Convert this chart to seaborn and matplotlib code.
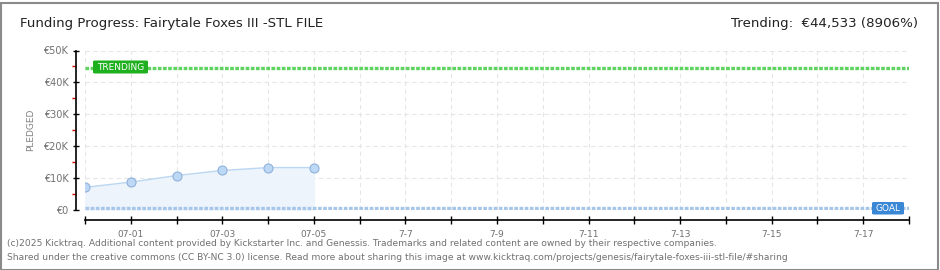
import matplotlib
matplotlib.use("Agg")
import matplotlib.pyplot as plt
import matplotlib.dates as mdates
from matplotlib.patches import FancyBboxPatch, Rectangle
import seaborn as sns
import pandas as pd
import numpy as np

# ---- data ----
dates = ["2025-06-30", "2025-07-01", "2025-07-02", "2025-07-03", "2025-07-04", "2025-07-05"]
pledged = [7100, 8750, 10800, 12400, 13300, 13300]
goal = 500
trending = 44533
title = "Funding Progress: Fairytale Foxes III -STL FILE"
trend_text = "Trending:  €44,533 (8906%)"
xtick_dates = ["2025-07-01", "2025-07-03", "2025-07-05", "2025-07-07", "2025-07-09",
               "2025-07-11", "2025-07-13", "2025-07-15", "2025-07-17"]
xtick_labels = ["07-01", "07-03", "07-05", "7-7", "7-9", "7-11", "7-13", "7-15", "7-17"]
ytick_values = [0, 10000, 20000, 30000, 40000, 50000]
ytick_labels = ["€0", "€10K", "€20K", "€30K", "€40K", "€50K"]
footer1 = ("(c)2025 Kicktraq. Additional content provided by Kickstarter Inc. and Genessis. "
           "Trademarks and related content are owned by their respective companies.")
footer2 = ("Shared under the creative commons (CC BY-NC 3.0) license. Read more about sharing this "
           "image at www.kicktraq.com/projects/genesis/fairytale-foxes-iii-stl-file/#sharing")

sns.set_style("white")
plt.rcParams['font.family'] = ['DejaVu Sans']

W, H = 940, 270
fig = plt.figure(figsize=(W / 100, H / 100), dpi=100)
fig.patch.set_facecolor("white")

# frame
fig.add_artist(Rectangle((0.5 / W, 0.5 / H), (W - 3) / W, (H - 3) / H, transform=fig.transFigure,
                         fill=False, edgecolor="#8a8a8a", linewidth=1.5))

left, right, top, bottom = 85, 909, 50.5, 210
ax = fig.add_axes([left / W, 1 - bottom / H, (right - left) / W, (bottom - top) / H])
ax.set_facecolor("none")

df = pd.DataFrame({"date": pd.to_datetime(dates), "pledged": pledged})
x0 = pd.Timestamp("2025-06-30")
x1 = pd.Timestamp("2025-07-18")
ax.set_xlim(x0, x1)
ax.set_ylim(0, 50000)

# grid
for d in pd.date_range(x0, x1, freq="D"):
    ax.axvline(d, color="#e6e6e6", linewidth=0.8, linestyle=(0, (4, 3)), zorder=0)
for v in ytick_values[1:]:
    ax.axhline(v, color="#e6e6e6", linewidth=0.8, linestyle=(0, (4, 3)), zorder=0)

# area + line + points
ax.fill_between(df["date"], df["pledged"], 0, color="#edf4fc", zorder=1)
sns.lineplot(data=df, x="date", y="pledged", ax=ax, color="#bcd7f3", linewidth=1.0,
             marker="o", markersize=6.5, markerfacecolor="#bdd8f5", markeredgecolor="#8fb1db",
             markeredgewidth=0.8, zorder=3)

# trending and goal lines
ax.plot([x0, x1], [trending, trending], color="#5fd35f", linewidth=2.4,
        linestyle=(0, (1.1, 0.45)), dash_capstyle="butt", zorder=2)
ax.plot([x0, x1], [goal, goal], color="#a6c6ea", linewidth=2.4,
        linestyle=(0, (1.1, 0.45)), dash_capstyle="butt", zorder=2)

# labels on lines
fig.add_artist(FancyBboxPatch(((93) / W, 1 - 73.5 / H), 55 / W, 13 / H, transform=fig.transFigure,
                              boxstyle="round,pad=0,rounding_size=0.003", facecolor="#1fb01f",
                              edgecolor="none", zorder=5))
fig.text(120.5 / W, 1 - 67 / H, "TRENDING", color="white", fontsize=6.5, ha="center", va="center",
         zorder=6)
fig.add_artist(FancyBboxPatch(((872) / W, 1 - 214.5 / H), 32 / W, 12.5 / H, transform=fig.transFigure,
                              boxstyle="round,pad=0,rounding_size=0.003", facecolor="#3a87d6",
                              edgecolor="none", zorder=5))
fig.text(888 / W, 1 - 208.3 / H, "GOAL", color="white", fontsize=6.5, ha="center", va="center",
         zorder=6)

# spines
for s in ["top", "right"]:
    ax.spines[s].set_visible(False)
ax.spines["left"].set_position(("outward", 9 * 0.72))
ax.spines["bottom"].set_position(("outward", 10 * 0.72))
ax.spines["left"].set_bounds(0, 50000)
ax.spines["bottom"].set_bounds(mdates.date2num(x0), mdates.date2num(x1))
for s in ["left", "bottom"]:
    ax.spines[s].set_color("black")
    ax.spines[s].set_linewidth(1.2)

ax.set_yticks(ytick_values)
ax.set_yticklabels(ytick_labels)
ax.set_yticks([5000, 15000, 25000, 35000, 45000], minor=True)
ax.tick_params(axis="y", which="both", left=True)
ax.tick_params(axis="y", which="major", direction="inout", length=5, width=1, color="black",
               labelsize=7, labelcolor="#707070", pad=3)
ax.tick_params(axis="y", which="minor", direction="out", length=3, width=1, color="#e00000")

ax.set_xticks(pd.date_range(x0, x1, freq="D"), minor=True)
ax.set_xticks(pd.to_datetime(xtick_dates))
ax.set_xticklabels(xtick_labels)
ax.tick_params(axis="x", which="both", bottom=True, direction="inout", length=6, width=1,
               color="black", labelsize=6.5, labelcolor="#707070", pad=4)
ax.set_xlabel("")
ax.set_ylabel("PLEDGED", color="#808080", fontsize=6.5, labelpad=6)

# texts
fig.text(20 / W, 1 - 23 / H, title, fontsize=9.6, color="#222222", ha="left", va="center")
fig.text(918 / W, 1 - 23 / H, trend_text, fontsize=9.6, color="#222222", ha="right", va="center")
fig.text(7 / W, 1 - 244 / H, footer1, fontsize=6.6, color="#707070", ha="left", va="center")
fig.text(7 / W, 1 - 258 / H, footer2, fontsize=6.6, color="#707070", ha="left", va="center")

fig.savefig("out.png", dpi=100, facecolor="white")
